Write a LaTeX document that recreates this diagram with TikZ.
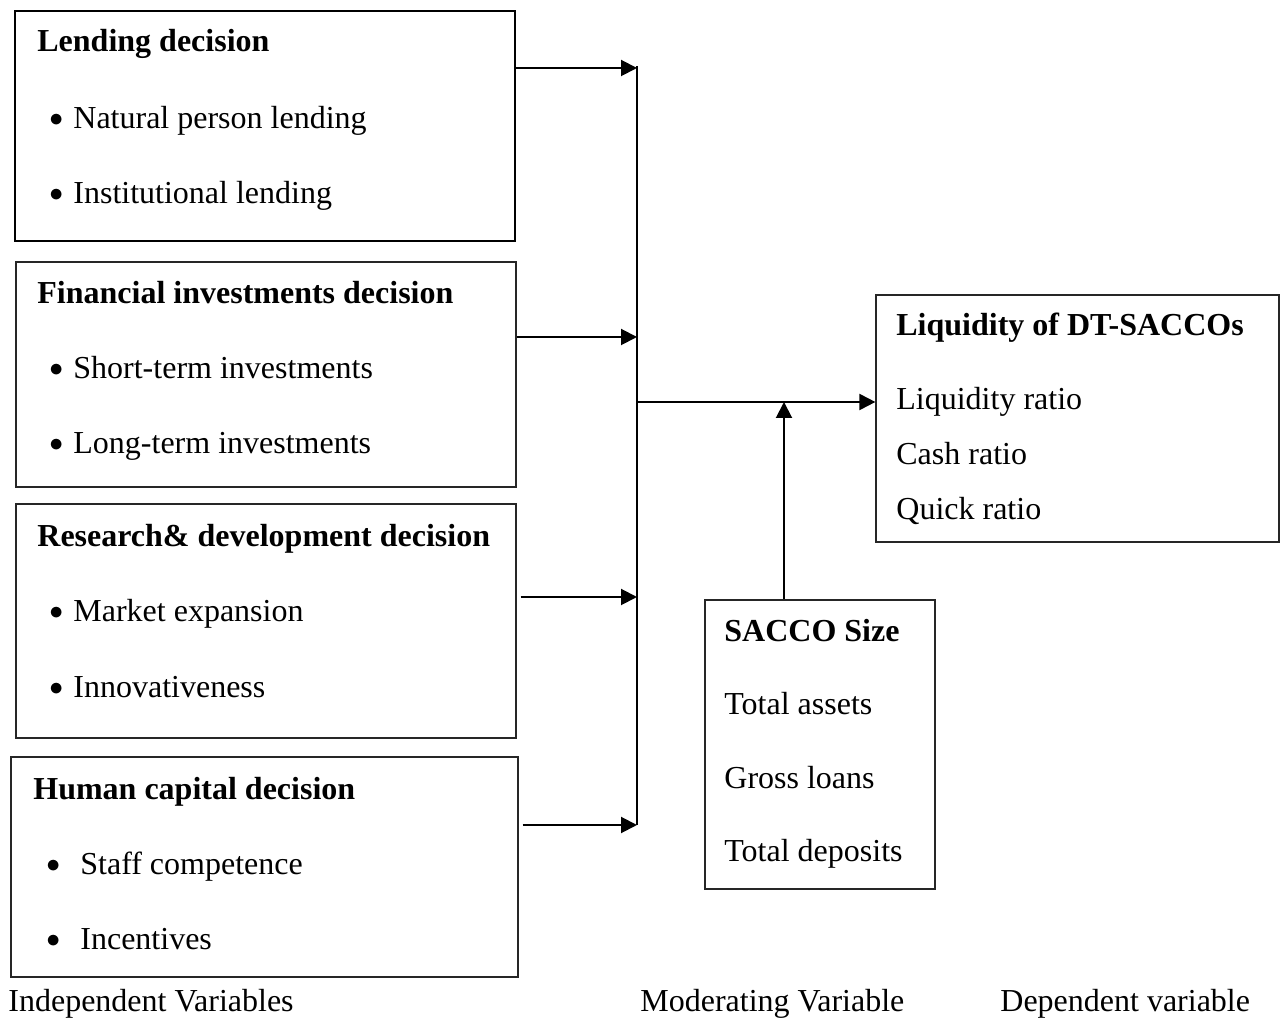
\documentclass[tikz,border=0pt]{standalone}
\usepackage{fontspec}
\setmainfont{Liberation Serif}
\usepackage{tikz}
\usetikzlibrary{arrows.meta,positioning}

% bullet item with a fixed gap to the text
\newcommand{\itm}[2][12pt]{\makebox[#1][l]{\raisebox{1.4pt}{\scalebox{0.8}{$\bullet$}}}#2}

\begin{document}
\begin{tikzpicture}[x=0.5pt, y=-0.5pt,
    every node/.style={font=\fontsize{16pt}{18pt}\selectfont}]
    \tikzstyle{box} = [rectangle, draw=black!85, line width=0.6pt, inner sep=0pt]
    \tikzstyle{txt} = [inner sep=0pt, anchor=base west, yshift=-1pt]
    \tikzstyle{hd} = [txt, font=\fontsize{16pt}{18pt}\selectfont\bfseries]
    \tikzstyle{arr} = [-{Triangle[length=8pt,width=8pt]}, line width=1pt]
    \useasboundingbox (0,0) rectangle (1282,1021);

    % independent variables
    \node (lend) [box, line width=1.1pt, draw=black, minimum width=250pt, minimum height=115pt] at (265,126) {};
    \node (lendT) [hd] at (37,50) {Lending decision};
    \node (lend1) [txt] at (49,127) {\itm{Natural person lending}};
    \node (lend2) [txt] at (49,202) {\itm{Institutional lending}};

    \node (fin) [box, minimum width=250pt, minimum height=112.5pt] at (266,374.5) {};
    \node (finT) [hd] at (37,302) {Financial investments decision};
    \node (fin1) [txt] at (49,377) {\itm{Short-term investments}};
    \node (fin2) [txt] at (49,452) {\itm{Long-term investments}};

    \node (rnd) [box, minimum width=250pt, minimum height=117pt] at (266,621) {};
    \node (rndT) [hd] at (37,545) {Research\& development decision};
    \node (rnd1) [txt] at (49,620) {\itm{Market expansion}};
    \node (rnd2) [txt] at (49,696) {\itm{Innovativeness}};

    \node (hum) [box, minimum width=253.5pt, minimum height=110pt] at (264.5,867) {};
    \node (humT) [hd] at (33,798) {Human capital decision};
    \node (hum1) [txt] at (46,873) {\itm[17pt]{Staff competence}};
    \node (hum2) [txt] at (46,948) {\itm[17pt]{Incentives}};

    % dependent variable
    \node (liq) [box, minimum width=201.5pt, minimum height=123.5pt] at (1077.5,418.5) {};
    \node (liqT) [hd] at (896,334) {Liquidity of DT-SACCOs};
    \node (liq1) [txt] at (896,408) {Liquidity ratio};
    \node (liq2) [txt] at (896,463) {Cash ratio};
    \node (liq3) [txt] at (896,518) {Quick ratio};

    % moderating variable
    \node (size) [box, minimum width=115pt, minimum height=144.5pt] at (820,744.5) {};
    \node (sizeT) [hd] at (724,640) {SACCO Size};
    \node (size1) [txt] at (724,713) {Total assets};
    \node (size2) [txt] at (724,787) {Gross loans};
    \node (size3) [txt] at (724,860) {Total deposits};

    % captions
    \node (capI) [txt] at (8,1010) {Independent Variables};
    \node (capM) [txt] at (640,1010) {Moderating Variable};
    \node (capD) [txt] at (1000,1010) {Dependent variable};

    % joining bar and arrows
    \coordinate (j1) at (637,68);
    \coordinate (j2) at (637,337);
    \coordinate (jm) at (637,402);
    \coordinate (j3) at (637,597);
    \coordinate (j4) at (637,825);
    \coordinate (up) at (784,402);
    \draw [line width=0.6pt] (637,66) -- (j4);
    \draw [arr] (lend.east |- j1) -- (j1);
    \draw [arr] (fin.east |- j2) -- (j2);
    \draw [arr, shorten <=2pt] (rnd.east |- j3) -- (j3);
    \draw [arr, shorten <=2pt] (hum.east |- j4) -- (j4);
    \draw [arr] (jm) -- (liq.west |- jm);
    \draw [arr] (size.north -| up) -- (up);
\end{tikzpicture}
\end{document}
